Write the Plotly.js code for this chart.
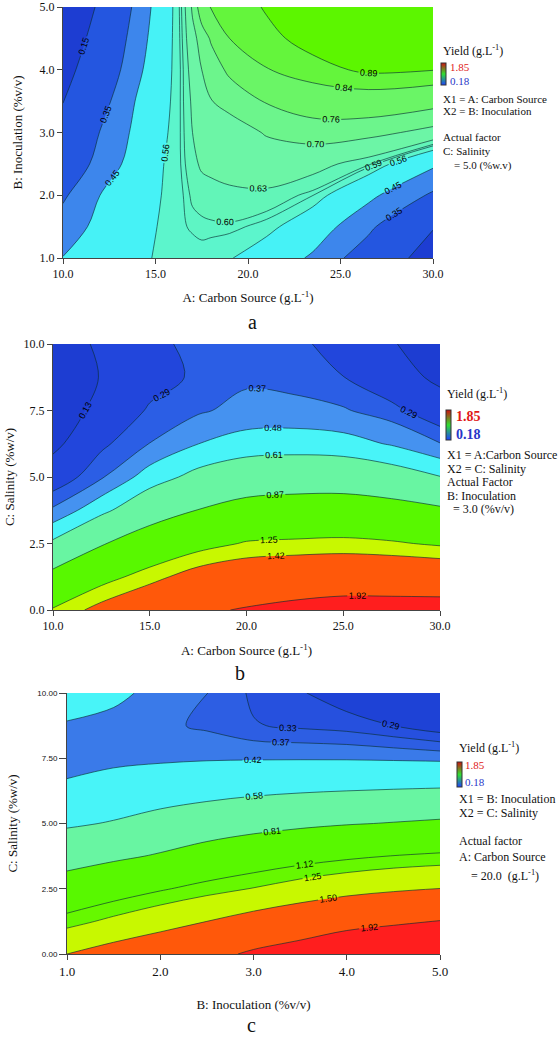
<!DOCTYPE html>
<html><head><meta charset="utf-8">
<script src="https://cdn.plot.ly/plotly-3.0.1.min.js"></script>
<style>html,body{margin:0;padding:0;background:#fff}#chart{width:559px;height:1039px}</style>
</head><body><div id="chart"></div>
<script>
// ---------- Panel a: Yield vs A (Carbon Source) and B (Inoculation), C = 5.0 ----------
const A_CARBON = [10, 12, 14, 15.5, 16, 16.5, 17, 17.5, 18, 19, 21, 23.5, 26.5, 30];
const A_INOC = [1, 1.5, 2, 2.5, 3, 3.5, 4, 4.5, 5];
const A_YIELD = [
  [0.453, 0.496, 0.552, 0.567, 0.572, 0.575, 0.580, 0.582, 0.577, 0.565, 0.515, 0.436, 0.283, 0.07],
  [0.395, 0.478, 0.534, 0.570, 0.580, 0.588, 0.593, 0.596, 0.597, 0.597, 0.581, 0.507, 0.376, 0.16],
  [0.334, 0.450, 0.517, 0.566, 0.578, 0.590, 0.604, 0.608, 0.611, 0.618, 0.620, 0.591, 0.475, 0.333],
  [0.270, 0.381, 0.499, 0.562, 0.577, 0.595, 0.617, 0.638, 0.645, 0.655, 0.665, 0.650, 0.606, 0.469],
  [0.207, 0.353, 0.475, 0.552, 0.575, 0.597, 0.630, 0.640, 0.650, 0.670, 0.705, 0.730, 0.720, 0.680],
  [0.146, 0.306, 0.458, 0.542, 0.571, 0.599, 0.638, 0.666, 0.698, 0.720, 0.765, 0.795, 0.805, 0.786],
  [0.095, 0.253, 0.427, 0.534, 0.568, 0.600, 0.653, 0.700, 0.727, 0.773, 0.837, 0.872, 0.900, 0.892],
  [0.037, 0.218, 0.402, 0.527, 0.567, 0.604, 0.677, 0.728, 0.767, 0.840, 0.876, 0.910, 0.935, 0.950],
  [-0.02, 0.176, 0.379, 0.519, 0.566, 0.608, 0.712, 0.800, 0.844, 0.861, 0.895, 0.940, 0.970, 0.990]
];
const A_LEVELS = [0.15, 0.35, 0.45, 0.56, 0.59, 0.60, 0.63, 0.70, 0.76, 0.84, 0.89];

// ---------- Panel b: Yield vs A (Carbon Source) and C (Salinity), B = 3.0 ----------
const B_CARBON = [10, 12.5, 15, 17.5, 20, 22.5, 25, 27.5, 30];
const B_SALINITY = [0, 1.25, 2.5, 3.75, 5, 6.25, 7.5, 8.75, 10];
const B_YIELD = [
  [1.27, 1.50, 1.68, 1.86, 1.95, 2.03, 2.09, 2.09, 2.09],
  [0.94, 1.16, 1.345, 1.53, 1.615, 1.66, 1.686, 1.678, 1.66],
  [0.64, 0.85, 1.015, 1.16, 1.27, 1.29, 1.304, 1.275, 1.22],
  [0.386, 0.57, 0.748, 0.875, 0.962, 0.99, 1.0, 0.963, 0.905],
  [0.219, 0.358, 0.539, 0.658, 0.725, 0.743, 0.74, 0.696, 0.615],
  [0.09, 0.27, 0.372, 0.479, 0.534, 0.544, 0.53, 0.469, 0.374],
  [0.04, 0.175, 0.305, 0.355, 0.406, 0.406, 0.38, 0.32, 0.213],
  [0.02, 0.137, 0.24, 0.31, 0.35, 0.33, 0.292, 0.203, 0.095],
  [0.03, 0.16, 0.246, 0.335, 0.345, 0.32, 0.237, 0.145, 0.02]
];
const B_LEVELS = [0.13, 0.29, 0.37, 0.48, 0.61, 0.87, 1.25, 1.42, 1.92];

// ---------- Panel c: Yield vs B (Inoculation) and C (Salinity), A = 20.0 ----------
const C_INOC = [1, 1.5, 2, 2.5, 3, 3.5, 4, 4.5, 5];
const C_SALINITY = [0, 1.25, 2.5, 3.75, 5, 6.25, 7.5, 8.75, 10];
const C_YIELD = [
  [1.50, 1.616, 1.71, 1.82, 1.97, 2.077, 2.21, 2.28, 2.36],
  [1.185, 1.294, 1.40, 1.50, 1.61, 1.707, 1.807, 1.87, 1.93],
  [0.925, 1.012, 1.10, 1.184, 1.258, 1.342, 1.412, 1.464, 1.503],
  [0.714, 0.77, 0.83, 0.907, 0.976, 1.035, 1.085, 1.125, 1.151],
  [0.558, 0.591, 0.643, 0.69, 0.733, 0.769, 0.798, 0.819, 0.842],
  [0.435, 0.48, 0.502, 0.527, 0.55, 0.567, 0.58, 0.589, 0.597],
  [0.395, 0.395, 0.405, 0.411, 0.413, 0.413, 0.412, 0.4075, 0.4016],
  [0.415, 0.395, 0.38, 0.362, 0.333, 0.322, 0.3125, 0.29, 0.26],
  [0.45, 0.44, 0.395, 0.371, 0.322, 0.295, 0.26, 0.24, 0.20]
];
const C_LEVELS = [0.29, 0.33, 0.37, 0.42, 0.58, 0.81, 1.12, 1.25, 1.50, 1.92];

// colour-key range shown in each legend
const KEY_RANGE = [0.18, 1.85];

// ---------- styles ----------
const A_COLORS = ['#1d3dd2','#2456e0','#3d86ec','#46f2f6','#5cf5cc','#5ef5c4','#62f5b8','#6cf5a6','#6cf58c','#6af566','#64f53c','#5cf600'];
const B_COLORS = ['#1d3dd2','#2246dc','#2b5ee5','#4592f0','#48f4f8','#68f5a2','#58f800','#c8f800','#ff580a','#ff1e1e'];
const C_COLORS = ['#1e42d6','#2650de','#2d5ee3','#3a7ae9','#48f4f8','#68f5a2','#58f800','#66f800','#c8f800','#ff580a','#ff1e1e'];
const LINE_COLOR = 'rgba(10,45,50,0.8)';
const SERIF = 'Liberation Serif';
const SANS = 'Liberation Sans';
const W = 559, H = 1039;
const PX = v => v / W, PY = v => 1 - v / H;

function panel(x, y, z, levels, colors, xa, ya) {
  const tr = [];
  tr.push({type:'heatmap', x, y, z, xaxis:xa, yaxis:ya, showscale:false, hoverinfo:'skip',
           colorscale:[[0, colors[0]], [1, colors[0]]]});
  levels.forEach((L, i) => tr.push({type:'contour', x, y, z, xaxis:xa, yaxis:ya, showscale:false, hoverinfo:'skip',
           contours:{type:'constraint', operation:'<', value:L}, fillcolor:colors[i + 1],
           line:{width:0, smoothing:1}}));
  levels.forEach(L => tr.push({type:'contour', x, y, z, xaxis:xa, yaxis:ya, showscale:false, hoverinfo:'skip',
           autocontour:false,
           contours:{coloring:'none', start:L, end:L, size:1, showlabels:true, labelformat:'.2f',
                     labelfont:{family:SANS, size:9, color:'#000'}},
           line:{color:LINE_COLOR, width:0.8, smoothing:1}}));
  return tr;
}

function keyBar(xa, ya, xp, yc, len) {
  return {type:'scatter', x:[null], y:[null], xaxis:xa, yaxis:ya, mode:'markers', hoverinfo:'skip', showlegend:false,
    marker:{color:[KEY_RANGE[0]], cmin:KEY_RANGE[0], cmax:KEY_RANGE[1], showscale:true,
      colorscale:[[0,'#1e40ff'],[0.5,'#30e030'],[1,'#d01010']],
      colorbar:{x:PX(xp), xanchor:'left', y:PY(yc), yanchor:'middle', len:len, lenmode:'pixels',
        thickness:5, thicknessmode:'pixels', outlinewidth:1, outlinecolor:'#333',
        showticklabels:false, ticks:'', xpad:0, ypad:0}}};
}

const data = [].concat(
  panel(A_CARBON, A_INOC, A_YIELD, A_LEVELS, A_COLORS, 'x', 'y'),
  panel(B_CARBON, B_SALINITY, B_YIELD, B_LEVELS, B_COLORS, 'x2', 'y2'),
  panel(C_INOC, C_SALINITY, C_YIELD, C_LEVELS, C_COLORS, 'x3', 'y3'),
  [keyBar('x','y',441,74,22), keyBar('x2','y2',446,425,30), keyBar('x3','y3',457,774,25)]
);

const axBase = {showgrid:false, zeroline:false, showline:true, linecolor:'#444', linewidth:1,
  ticks:'outside', ticklen:5, tickcolor:'#444', ticklabeloverflow:'allow',
  tickfont:{family:SERIF, size:12, color:'#111'}};
const titleFont = {family:SERIF, size:13, color:'#111'};

function ann(text, x, y, opts) {
  return Object.assign({text, x:PX(x), y:PY(y), xref:'paper', yref:'paper', xanchor:'left', yanchor:'middle',
    showarrow:false, font:{family:SERIF, size:11, color:'#111'}}, opts || {});
}

const annotations = [
  // panel a legend
  ann('Yield (g.L<sup>-1</sup>)', 441, 50, {font:{family:SERIF, size:12, color:'#111'}}),
  ann('1.85', 448, 67, {font:{family:SERIF, size:11, color:'#e01818'}}),
  ann('0.18', 448, 81, {font:{family:SERIF, size:11, color:'#2836c8'}}),
  ann('X1 = A: Carbon Source', 441, 99),
  ann('X2 = B: Inoculation', 441, 111),
  ann('Actual factor', 441, 137),
  ann('C: Salinity', 441, 151),
  ann('= 5.0 (%w.v)', 452, 166),
  // panel b legend
  ann('Yield (g.L<sup>-1</sup>)', 445, 393, {font:{family:SERIF, size:12, color:'#111'}}),
  ann('<b>1.85</b>', 454, 416, {font:{family:SERIF, size:14, color:'#e01818'}}),
  ann('<b>0.18</b>', 454, 434, {font:{family:SERIF, size:14, color:'#2836c8'}}),
  ann('X1 = A:Carbon Source', 445, 455, {font:{family:SERIF, size:12, color:'#111'}}),
  ann('X2 = C: Salinity', 445, 469, {font:{family:SERIF, size:12, color:'#111'}}),
  ann('Actual Factor', 445, 482, {font:{family:SERIF, size:12, color:'#111'}}),
  ann('B: Inoculation', 445, 496, {font:{family:SERIF, size:12, color:'#111'}}),
  ann('= 3.0 (%v/v)', 451, 509, {font:{family:SERIF, size:12, color:'#111'}}),
  // panel c legend
  ann('Yield (g.L<sup>-1</sup>)', 457, 747, {font:{family:SERIF, size:12, color:'#111'}}),
  ann('1.85', 463, 765, {font:{family:SERIF, size:11, color:'#e01818'}}),
  ann('0.18', 463, 782, {font:{family:SERIF, size:11, color:'#2836c8'}}),
  ann('X1 = B: Inoculation', 457, 799, {font:{family:SERIF, size:12, color:'#111'}}),
  ann('X2 = C: Salinity', 457, 813, {font:{family:SERIF, size:12, color:'#111'}}),
  ann('Actual factor', 457, 841, {font:{family:SERIF, size:12, color:'#111'}}),
  ann('A: Carbon Source', 457, 857, {font:{family:SERIF, size:12, color:'#111'}}),
  ann('= 20.0  (g.L<sup>-1</sup>)', 469, 875, {font:{family:SERIF, size:12, color:'#111'}}),
  // panel letters
  ann('a', 252, 322, {xanchor:'center', font:{family:SERIF, size:20, color:'#111'}}),
  ann('b', 240, 673, {xanchor:'center', font:{family:SERIF, size:20, color:'#111'}}),
  ann('c', 251, 1038, {xanchor:'center', yanchor:'bottom', font:{family:SERIF, size:20, color:'#111'}})
];

const layout = {
  width:W, height:H, margin:{l:0, r:0, t:0, b:0}, paper_bgcolor:'#fff', plot_bgcolor:'#fff',
  showlegend:false, annotations,
  xaxis: Object.assign({}, axBase, {domain:[PX(63), PX(433)], anchor:'y', range:[10,30], tick0:10, dtick:5, tickformat:'.1f',
    title:{text:'A: Carbon Source (g.L<sup>-1</sup>)', font:titleFont, standoff:12}}),
  yaxis: Object.assign({}, axBase, {domain:[PY(258), PY(7)], anchor:'x', range:[1,5], tick0:1, dtick:1, tickformat:'.1f',
    title:{text:'B: Inoculation (%v/v)', font:titleFont, standoff:14}}),
  xaxis2: Object.assign({}, axBase, {domain:[PX(53), PX(440)], anchor:'y2', range:[10,30], tick0:10, dtick:5, tickformat:'.1f',
    title:{text:'A: Carbon Source (g.L<sup>-1</sup>)', font:titleFont, standoff:13}}),
  yaxis2: Object.assign({}, axBase, {domain:[PY(610), PY(344)], anchor:'x2', range:[0,10], tick0:0, dtick:2.5, tickformat:'.1f',
    title:{text:'C: Salinity (%w/v)', font:titleFont, standoff:6}}),
  xaxis3: Object.assign({}, axBase, {domain:[PX(67), PX(440)], anchor:'y3', range:[1,5], tick0:1, dtick:1, tickformat:'.1f',
    tickfont:{family:SERIF, size:13, color:'#111'},
    title:{text:'B: Inoculation (%v/v)', font:titleFont, standoff:22}}),
  yaxis3: Object.assign({}, axBase, {domain:[PY(954), PY(693)], anchor:'x3', range:[0,10], tick0:0, dtick:2.5, tickformat:'.2f',
    ticklen:7, tickfont:{family:SANS, size:8, color:'#111'},
    title:{text:'C: Salinity (%w/v)', font:titleFont, standoff:16}})
};

Plotly.newPlot('chart', data, layout, {staticPlot:true, displayModeBar:false});
</script>
</body></html>
